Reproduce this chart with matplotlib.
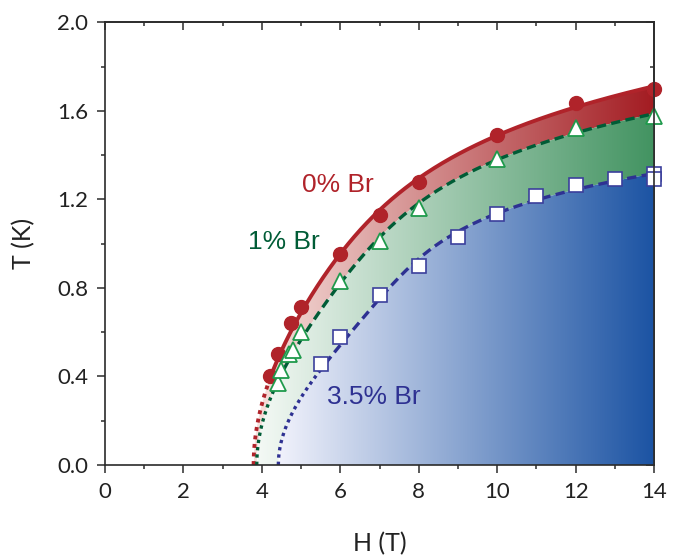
import numpy as np
import matplotlib
matplotlib.use("Agg")
import matplotlib.pyplot as plt
from matplotlib.patches import Polygon
from matplotlib.ticker import MultipleLocator

# phase boundaries T(H) for three Br contents

# 0% Br (filled circles)
h_0 = [4.2, 4.4, 4.75, 5.0, 6.0, 7.0, 8.0, 10.0, 12.0, 14.0]
t_0 = [0.40, 0.50, 0.64, 0.715, 0.955, 1.13, 1.28, 1.49, 1.635, 1.70]
# 1% Br (open triangles)
h_1 = [4.4, 4.5, 4.7, 4.8, 5.0, 6.0, 7.0, 8.0, 10.0, 12.0, 14.0]
t_1 = [0.37, 0.43, 0.50, 0.52, 0.60, 0.83, 1.01, 1.16, 1.38, 1.52, 1.575]
# 3.5% Br (open squares)
h_35 = [5.5, 6.0, 7.0, 8.0, 9.0, 10.0, 11.0, 12.0, 13.0, 14.0, 14.0]
t_35 = [0.455, 0.577, 0.767, 0.90, 1.03, 1.133, 1.216, 1.267, 1.29, 1.315, 1.29]
# critical fields where the extrapolated curves reach T = 0
hc = {"0": 3.79, "1": 3.87, "35": 4.42}

labels = ["0% Br", "1% Br", "3.5% Br"]
xticks = [0, 2, 4, 6, 8, 10, 12, 14]
yticks = [0.0, 0.4, 0.8, 1.2, 1.6, 2.0]

c_red = "#b0232a"
c_grn = "#005c36"
c_grn_mk = "#1f9a4c"
c_blu = "#2e3192"
c_sq = "#3b3f9c"
c_ax = "#2b2b2b"


def boundary(h, t, h_c, hmax=14.0):
    # smooth fit H = poly(T^2), anchored at (h_c, 0)
    u = np.r_[0.0, np.asarray(t) ** 2]
    hh = np.r_[h_c, h]
    w = np.r_[20.0, np.ones(len(h))]
    p = np.polyfit(u, hh, 3, w=w)
    tt = np.linspace(0, max(t) * 1.15, 600)
    hf = np.polyval(p, tt ** 2)
    keep = hf <= hmax
    t_end = np.interp(hmax, hf, tt)
    hf = np.r_[hf[keep], hmax]
    tt = np.r_[tt[keep], t_end]
    return hf, tt


H0, T0 = boundary(h_0, t_0, hc["0"])
H1, T1 = boundary(h_1, t_1, hc["1"])
H3, T3 = boundary(h_35, t_35, hc["35"])

fig = plt.figure(figsize=(6.82, 5.56), dpi=100)
ax = fig.add_axes([0.154, 0.1637, 0.805, 0.7963])
ax.set_xlim(0, 14)
ax.set_ylim(0, 2.0)


def gradient(c_left, c_right, x0, verts):
    n = 400
    f = np.linspace(0, 1, n)[None, :, None]
    a = np.array(c_left, float)[None, None, :] / 255
    b = np.array(c_right, float)[None, None, :] / 255
    img = a + (b - a) * f
    img = np.repeat(img, 2, axis=0)
    im = ax.imshow(img, extent=[x0, 14, 0, 2], origin="lower",
                   aspect="auto", zorder=1, interpolation="bilinear")
    poly = Polygon(verts, closed=True, transform=ax.transData,
                   facecolor="none", edgecolor="none")
    im.set_clip_path(poly)


red_poly = np.r_[np.c_[H0, T0], np.c_[H1, T1][::-1]]
grn_poly = np.r_[np.c_[H1, T1], np.c_[H3, T3][::-1]]
blu_poly = np.r_[np.c_[H3, T3], [[14.0, 0.0]]]

gradient((247, 226, 222), (163, 28, 34), 3.8, red_poly)
gradient((244, 249, 245), (66, 147, 97), 3.9, grn_poly)
gradient((240, 241, 251), (27, 83, 163), 4.45, blu_poly)


def draw_curve(H, T, t_low, color, style, lw):
    lo = T <= t_low
    hi = T >= t_low
    ax.plot(H[lo], T[lo], color=color, lw=lw, ls=(0, (1.0, 1.2)),
            zorder=3, solid_capstyle="butt")
    ax.plot(H[hi], T[hi], color=color, lw=lw, ls=style, zorder=3)


draw_curve(H0, T0, min(t_0), c_red, "-", 2.8)
draw_curve(H1, T1, min(t_1), c_grn, (0, (2.8, 1.6)), 2.4)
draw_curve(H3, T3, min(t_35), c_blu, (0, (2.8, 1.6)), 2.4)

ax.plot(h_0, t_0, "o", ms=10, color=c_red, mec=c_red, zorder=5, clip_on=False)
ax.plot(h_1, t_1, "^", ms=12, mfc="white", mec=c_grn_mk, mew=1.3,
        zorder=5, clip_on=False)
ax.plot(h_35, t_35, "s", ms=10, mfc="white", mec=c_sq, mew=1.2,
        zorder=5, clip_on=False)

txt_font = ["Liberation Sans", "DejaVu Sans"]
ax.text(5.95, 1.266, labels[0], color=c_red, fontsize=19, family=txt_font,
        ha="center", va="center", zorder=6)
ax.text(4.57, 1.008, labels[1], color=c_grn, fontsize=19, family=txt_font,
        ha="center", va="center", zorder=6)
ax.text(6.86, 0.308, labels[2], color=c_blu, fontsize=19, family=txt_font,
        ha="center", va="center", zorder=6)

tick_font = ["Lato", "DejaVu Sans"]
ax.set_xticks(xticks)
ax.set_yticks(yticks)
ax.set_yticklabels([f"{v:.1f}" for v in yticks])
ax.xaxis.set_minor_locator(MultipleLocator(1))
ax.yaxis.set_minor_locator(MultipleLocator(0.2))
ax.tick_params(which="both", direction="out", color=c_ax, width=1.1,
               labelsize=16, labelcolor="#222222")
ax.tick_params(which="major", length=6, pad=6)
ax.tick_params(which="minor", length=3)
for lab in ax.get_xticklabels() + ax.get_yticklabels():
    lab.set_family(tick_font)
for s in ax.spines.values():
    s.set_linewidth(1.2)
    s.set_color(c_ax)
    s.set_zorder(7)

top = ax.secondary_xaxis("top")
top.set_xticks(xticks)
top.xaxis.set_minor_locator(MultipleLocator(1))
top.tick_params(which="both", direction="in", labeltop=False, color=c_ax, width=1.1)
top.tick_params(which="major", length=6)
top.tick_params(which="minor", length=3)
right = ax.secondary_yaxis("right")
right.set_yticks(yticks)
right.yaxis.set_minor_locator(MultipleLocator(0.2))
right.tick_params(which="both", direction="in", labelright=False, color=c_ax, width=1.1)
right.tick_params(which="major", length=6)
right.tick_params(which="minor", length=3)
for sec in (top, right):
    for s in sec.spines.values():
        s.set_linewidth(1.2)
        s.set_color(c_ax)

ax.set_xlabel("H (T)", fontsize=18, family=tick_font, color="#222222", labelpad=22)
ax.set_ylabel("T (K)", fontsize=18, family=tick_font, color="#222222", labelpad=16)

fig.savefig("out.png", dpi=100)
